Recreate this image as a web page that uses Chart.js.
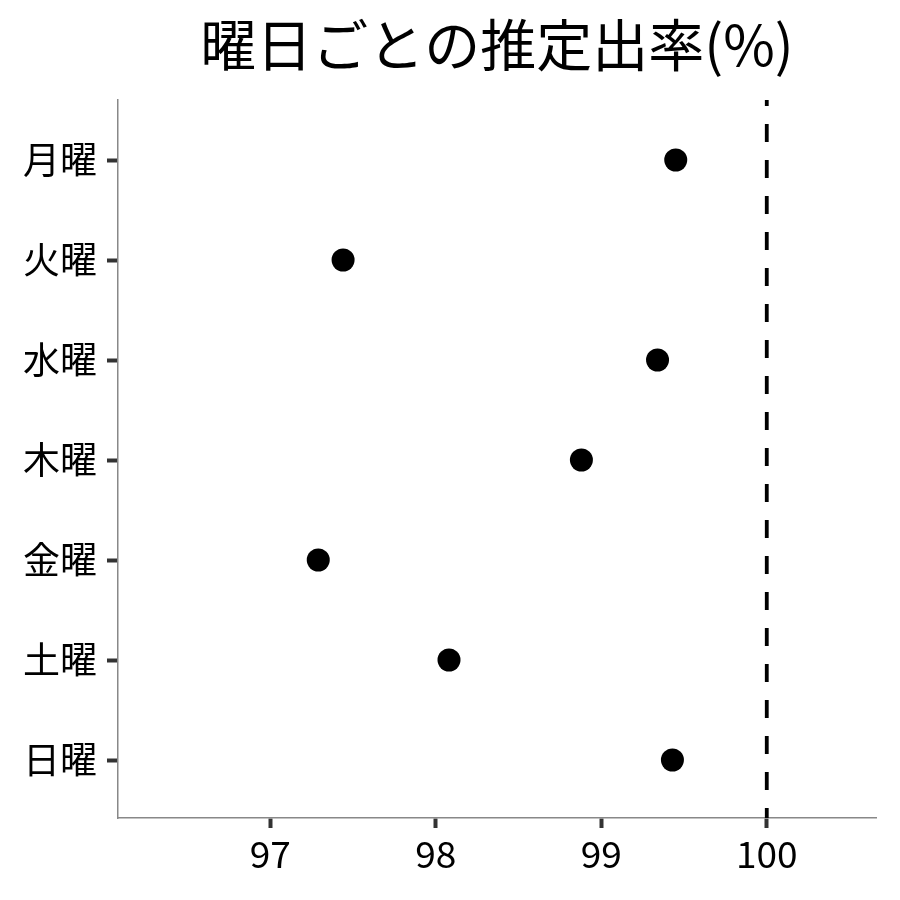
<!DOCTYPE html>
<html><head><meta charset="utf-8">
<script src="https://cdn.jsdelivr.net/npm/chart.js@4.4.0/dist/chart.umd.min.js"></script>
<style>html,body{margin:0;padding:0;background:#fff}#wrap{width:900px;height:900px}</style>
</head><body><div id="wrap"><canvas id="c" width="900" height="900"></canvas></div>
<script>
const titleText = '曜日ごとの推定出率(%)';
const days = ['月曜','火曜','水曜','木曜','金曜','土曜','日曜'];
const rates = [99.45, 97.44, 99.34, 98.88, 97.29, 98.08, 99.43];
const xTicks = [97, 98, 99, 100];
const refValue = 100;
const xMin = 96.08, xMax = 100.66;
const yMin = -0.6, yMax = 6.58;

const FONT = '"Noto Sans CJK JP", "Noto Sans", sans-serif';

const pointData = days.map((d, i) => ({x: rates[i], y: i}));

const panelTitle = {
  id: 'panelTitle',
  afterDraw(chart) {
    const {ctx, chartArea} = chart;
    ctx.save();
    ctx.fillStyle = '#000';
    ctx.font = '56px ' + FONT;
    ctx.textAlign = 'center';
    ctx.textBaseline = 'middle';
    ctx.fillText(titleText, (chartArea.left + chartArea.right) / 2, 45);
    ctx.restore();
  }
};

new Chart(document.getElementById('c'), {
  data: {
    datasets: [
      {
        type: 'line',
        data: [{x: refValue, y: yMax}, {x: refValue, y: yMin}],
        borderColor: '#000',
        borderWidth: 3.8,
        borderDash: [18, 18],
        borderDashOffset: 8,
        pointRadius: 0,
        fill: false,
        order: 2
      },
      {
        type: 'scatter',
        data: pointData,
        backgroundColor: '#000',
        borderColor: '#000',
        borderWidth: 0,
        pointRadius: 11.5,
        pointHoverRadius: 11.5,
        order: 1
      }
    ]
  },
  plugins: [panelTitle],
  options: {
    responsive: false,
    animation: false,
    devicePixelRatio: 1,
    layout: {padding: {top: 100, right: 24, bottom: 0, left: 0}},
    plugins: {
      legend: {display: false},
      tooltip: {enabled: false},
      title: {display: false}
    },
    scales: {
      x: {
        type: 'linear',
        min: xMin, max: xMax,
        afterBuildTicks: s => { s.ticks = xTicks.map(v => ({value: v})); },
        afterFit: s => { s.height = 82; },
        grid: {drawOnChartArea: false, drawTicks: true, tickLength: 10, tickColor: '#333', tickWidth: 4},
        border: {color: '#888', width: 1.5},
        ticks: {color: '#000', font: {family: FONT, size: 37}, padding: 4, maxRotation: 0}
      },
      y: {
        type: 'linear',
        reverse: true,
        min: yMin, max: yMax,
        afterBuildTicks: s => { s.ticks = days.map((d, i) => ({value: i})); },
        afterFit: s => { s.width = 118; },
        grid: {drawOnChartArea: false, drawTicks: true, tickLength: 11, tickColor: '#333', tickWidth: 4},
        border: {color: '#888', width: 1.5},
        ticks: {color: '#000', font: {family: FONT, size: 37}, padding: 10,
          callback: v => days[v]}
      }
    }
  }
});
</script></body></html>
